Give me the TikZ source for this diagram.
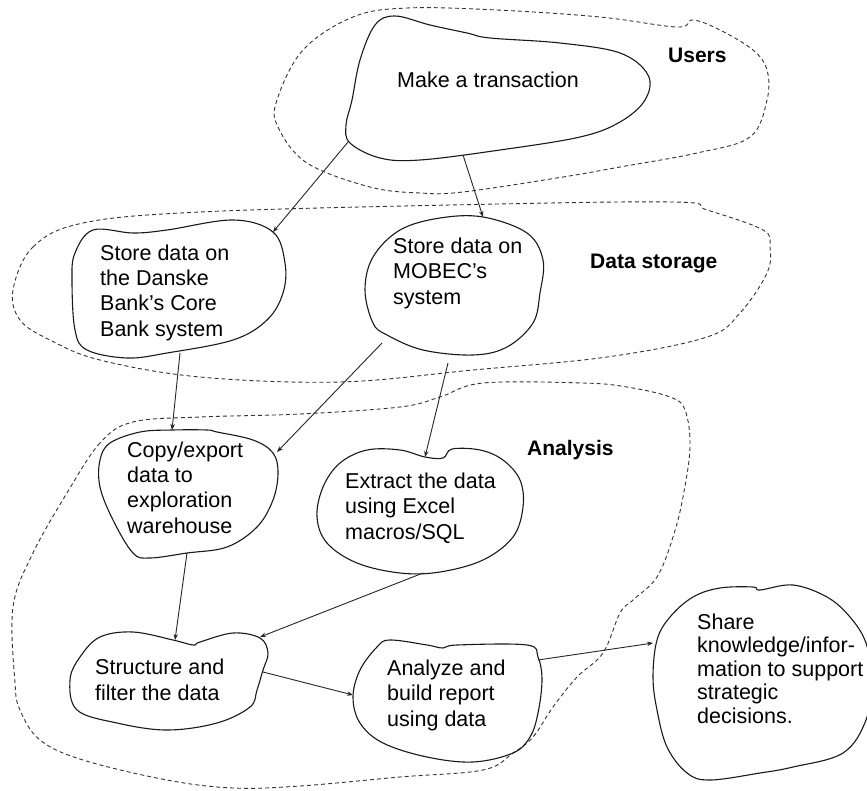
\documentclass[tikz,border=0pt]{standalone}
\usepackage{fontspec}
\setmainfont{Liberation Sans}
\usetikzlibrary{arrows.meta}
\begin{document}
\begin{tikzpicture}[x=1pt,y=-1pt,
  blob/.style={draw=black!90, line width=1.1pt},
  region/.style={draw=black!80, line width=0.9pt, dash pattern=on 4pt off 3pt},
  conn/.style={draw=black!85, line width=0.9pt, -{Stealth[length=6pt,width=4.5pt]}},
  txt/.style={inner sep=0pt, anchor=base west, align=left, font=\fontsize{21.5}{25.3}\selectfont},
  lbl/.style={inner sep=0pt, anchor=base west, font=\fontsize{21}{25}\selectfont\bfseries}]
\useasboundingbox (0,0) rectangle (867,790);
\fill[white] (0,0) rectangle (867,790);

% regions
\draw[region] plot[smooth cycle, tension=0.6] coordinates {(407,8) (497,10) (600,17) (677,27) (693,20) (720,30) (753,50) (767,70) (767,100) (750,137) (697,153) (620,167) (563,177) (463,192) (420,193) (370,187) (307,163) (278,127) (277,100) (303,50) (353,17)};
\draw[region] plot[smooth cycle, tension=0.6] coordinates {(13,290) (33,247) (83,223) (200,212) (450,205) (673,202) (707,210) (763,230) (770,247) (767,273) (740,313) (707,337) (607,357) (473,370) (340,382) (200,377) (100,360) (50,340) (20,320)};
\draw[region] plot[smooth cycle, tension=0.6] coordinates {(133,422) (100,443) (67,493) (33,553) (13,607) (15,683) (20,710) (40,740) (83,760) (167,780) (233,788) (300,786) (400,777) (483,770) (513,753) (533,737) (553,707) (577,677) (603,653) (620,613) (633,600) (657,577) (673,537) (683,497) (690,447) (685,410) (670,397) (627,387) (583,383) (483,383) (440,397) (400,407) (300,414) (200,417)};

% blobs
\draw[blob] plot[smooth cycle, tension=0.6] coordinates {(352,100) (360,60) (375,25) (395,16) (430,25) (467,33) (490,38) (560,43) (620,53) (648,75) (645,100) (620,122) (580,137) (500,150) (420,160) (380,158) (350,143) (346,125)};
\draw[blob] plot[smooth cycle, tension=0.6] coordinates {(72,280) (75,253) (93,230) (133,233) (167,230) (233,220) (273,232) (285,263) (283,293) (267,320) (233,340) (167,353) (127,358) (87,350) (75,330)};
\draw[blob] plot[smooth cycle, tension=0.6] coordinates {(483,217) (440,218) (400,230) (373,257) (365,290) (373,323) (387,335) (423,350) (473,355) (507,347) (533,323) (540,293) (543,260) (527,233)};
\draw[blob] plot[smooth cycle, tension=0.6] coordinates {(172,430) (140,432) (110,443) (100,460) (100,487) (113,520) (133,553) (150,558) (187,553) (227,547) (257,527) (273,500) (278,473) (273,453) (253,440) (217,432) (207,430)};
\draw[blob] plot[smooth cycle, tension=0.6] coordinates {(425,457) (400,450) (367,450) (340,463) (323,487) (317,517) (327,543) (357,563) (400,573) (440,572) (483,560) (513,537) (523,507) (520,480) (503,460) (480,450) (452,449) (443,458)};
\draw[blob] plot[smooth cycle, tension=0.6] coordinates {(70,680) (80,657) (100,637) (133,632) (173,640) (193,645) (200,642) (233,633) (260,638) (268,653) (263,670) (257,690) (250,707) (217,723) (167,730) (117,723) (77,710)};
\draw[blob] plot[smooth cycle, tension=0.6] coordinates {(353,697) (360,670) (377,647) (390,640) (427,645) (443,648) (457,645) (527,645) (538,657) (542,680) (538,713) (530,737) (513,753) (473,762) (427,757) (383,743) (360,723)};
\draw[blob] plot[smooth cycle, tension=0.6] coordinates {(657,640) (670,617) (693,597) (720,588) (753,587) (760,590) (793,585) (827,597) (850,617) (866,643) (872,680) (866,720) (843,753) (793,767) (760,773) (710,780) (687,773) (667,747) (657,710) (653,677)};

% texts (anchor = baseline of the last line)
\node[txt] (mk) at (397,87) {Make a transaction};
\node[txt] (db) at (100,336) {Store data on\\the Danske\\Bank’s Core\\Bank system};
\node[txt] (mb) at (393,304) {Store data on\\MOBEC’s\\system};
\node[txt] (cp) at (127,533) {Copy/export\\data to\\exploration\\warehouse};
\node[txt] (ex) at (345,539) {Extract the data\\using Excel\\macros/SQL};
\node[txt] (st) at (95,700) {Structure and\\filter the data};
\node[txt] (an) at (387,726) {Analyze and\\build report\\using data};
\node[txt, font=\fontsize{21.5}{23.5}\selectfont] (sh) at (697,723) {Share\\knowledge/infor-\\mation to support\\strategic\\decisions.};
\node[lbl] (lu) at (668,62) {Users};
\node[lbl] (ld) at (590,268) {Data storage};
\node[lbl] (la) at (527,455) {Analysis};

% connector ends
\coordinate (mkA) at (348,142);
\coordinate (mkB) at (463,155);
\coordinate (dbT) at (273,232);
\coordinate (dbB) at (180,353);
\coordinate (mbT) at (483,217);
\coordinate (mbL) at (382,343);
\coordinate (mbB) at (448,363);
\coordinate (cpT) at (172,430);
\coordinate (cpR) at (277,452);
\coordinate (cpB) at (187,553);
\coordinate (exT) at (425,457);
\coordinate (exB) at (423,573);
\coordinate (stT) at (175,640);
\coordinate (stR) at (260,637);
\coordinate (stE) at (263,672);
\coordinate (anW) at (353,695);
\coordinate (anE) at (538,660);
\coordinate (shW) at (653,643);

\draw[conn] (mkA) -- (dbT);
\draw[conn] (mkB) -- (mbT);
\draw[conn] (dbB) -- (cpT);
\draw[conn] (mbL) -- (cpR);
\draw[conn] (mbB) -- (exT);
\draw[conn] (cpB) -- (stT);
\draw[conn] (exB) -- (stR);
\draw[conn] (stE) -- (anW);
\draw[conn] (anE) -- (shW);
\end{tikzpicture}
\end{document}
